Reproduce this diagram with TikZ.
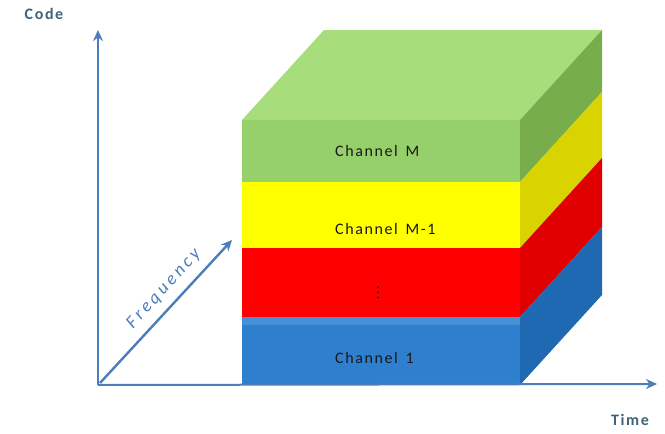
\documentclass[tikz,border=0pt]{standalone}
\usepackage{fontspec}
\setmainfont{Carlito}
\newfontfamily\symfont{DejaVu Sans}
\newfontfamily\widefont[LetterSpace=10]{Carlito}
\newfontfamily\freqfont[LetterSpace=18]{Carlito}
\usetikzlibrary{arrows.meta}
\definecolor{axisblue}{HTML}{4A7DBA}
\definecolor{labelgrey}{HTML}{3E6478}
\definecolor{greenfront}{HTML}{96D06A}
\definecolor{greentop}{HTML}{A8DD7C}
\definecolor{greenside}{HTML}{78AD4C}
\definecolor{yellowfront}{HTML}{FFFF00}
\definecolor{yellowside}{HTML}{D9D400}
\definecolor{redfront}{HTML}{FF0000}
\definecolor{redside}{HTML}{E10000}
\definecolor{bluefront}{HTML}{2F7FCF}
\definecolor{bluelight}{HTML}{4590D6}
\definecolor{blueside}{HTML}{1F69B2}
\tikzset{
  axis/.style={draw=axisblue, line width=2pt, -{Stealth[length=11pt,width=10pt]}},
  chan/.style={font=\widefont\fontsize{16}{18}\selectfont, text=black!90, anchor=west, inner sep=0pt},
  axlabel/.style={font=\widefont\bfseries\fontsize{16}{18}\selectfont, text=labelgrey}
}
\begin{document}
\begin{tikzpicture}[x=1pt,y=-1pt]
\useasboundingbox (0,0) rectangle (665,434);
% depth offset of the stack: (82,-90)
% top face
\fill[greentop] (242,120) -- (520,120) -- (602,30) -- (324,30) -- cycle;
% side faces
\fill[greenside]  (520,120) -- (602,30)  -- (602,92)  -- (520,182) -- cycle;
\fill[yellowside] (520,182) -- (602,92)  -- (602,158) -- (520,248) -- cycle;
\fill[redside]    (520,248) -- (602,158) -- (602,227) -- (520,317) -- cycle;
\fill[blueside]   (520,317) -- (602,227) -- (602,295) -- (520,385) -- cycle;
% front faces
\fill[greenfront]  (242,120) rectangle (520,182);
\fill[yellowfront] (242,182) rectangle (520,248);
\fill[redfront]    (242,248) rectangle (520,317);
\fill[bluefront]   (242,317) rectangle (520,385);
\fill[bluelight]   (242,317) rectangle (520,325);
% channel labels
\node[chan] (chM)  at (335,151) {Channel\, M};
\node[chan] (chM1) at (335,229) {Channel\, M-1};
\node[chan, anchor=center, font=\symfont\fontsize{15}{17}\selectfont] (dots) at (378,293) {⋮};
\node[chan] (ch1)  at (335,358) {Channel\, 1};
% axes
\coordinate (O) at (98,385);
\coordinate (ytip) at (98,30);
\coordinate (xtip) at (657,384);
\coordinate (fstart) at (100,383);
\coordinate (ftip) at (232,240);
\draw[axis] (O) -- (ytip);
\draw[axis] (O) -- (xtip);
\draw[axis, line width=2.4pt] (fstart) -- (ftip);
\node[font=\freqfont\itshape\fontsize{18}{20}\selectfont, text=axisblue, rotate=47.5] (freq) at (164,289) {Frequency};
\node[axlabel] (code) at (44,14) {Code};
\node[axlabel] (time) at (630,420) {Time};
\end{tikzpicture}
\end{document}
